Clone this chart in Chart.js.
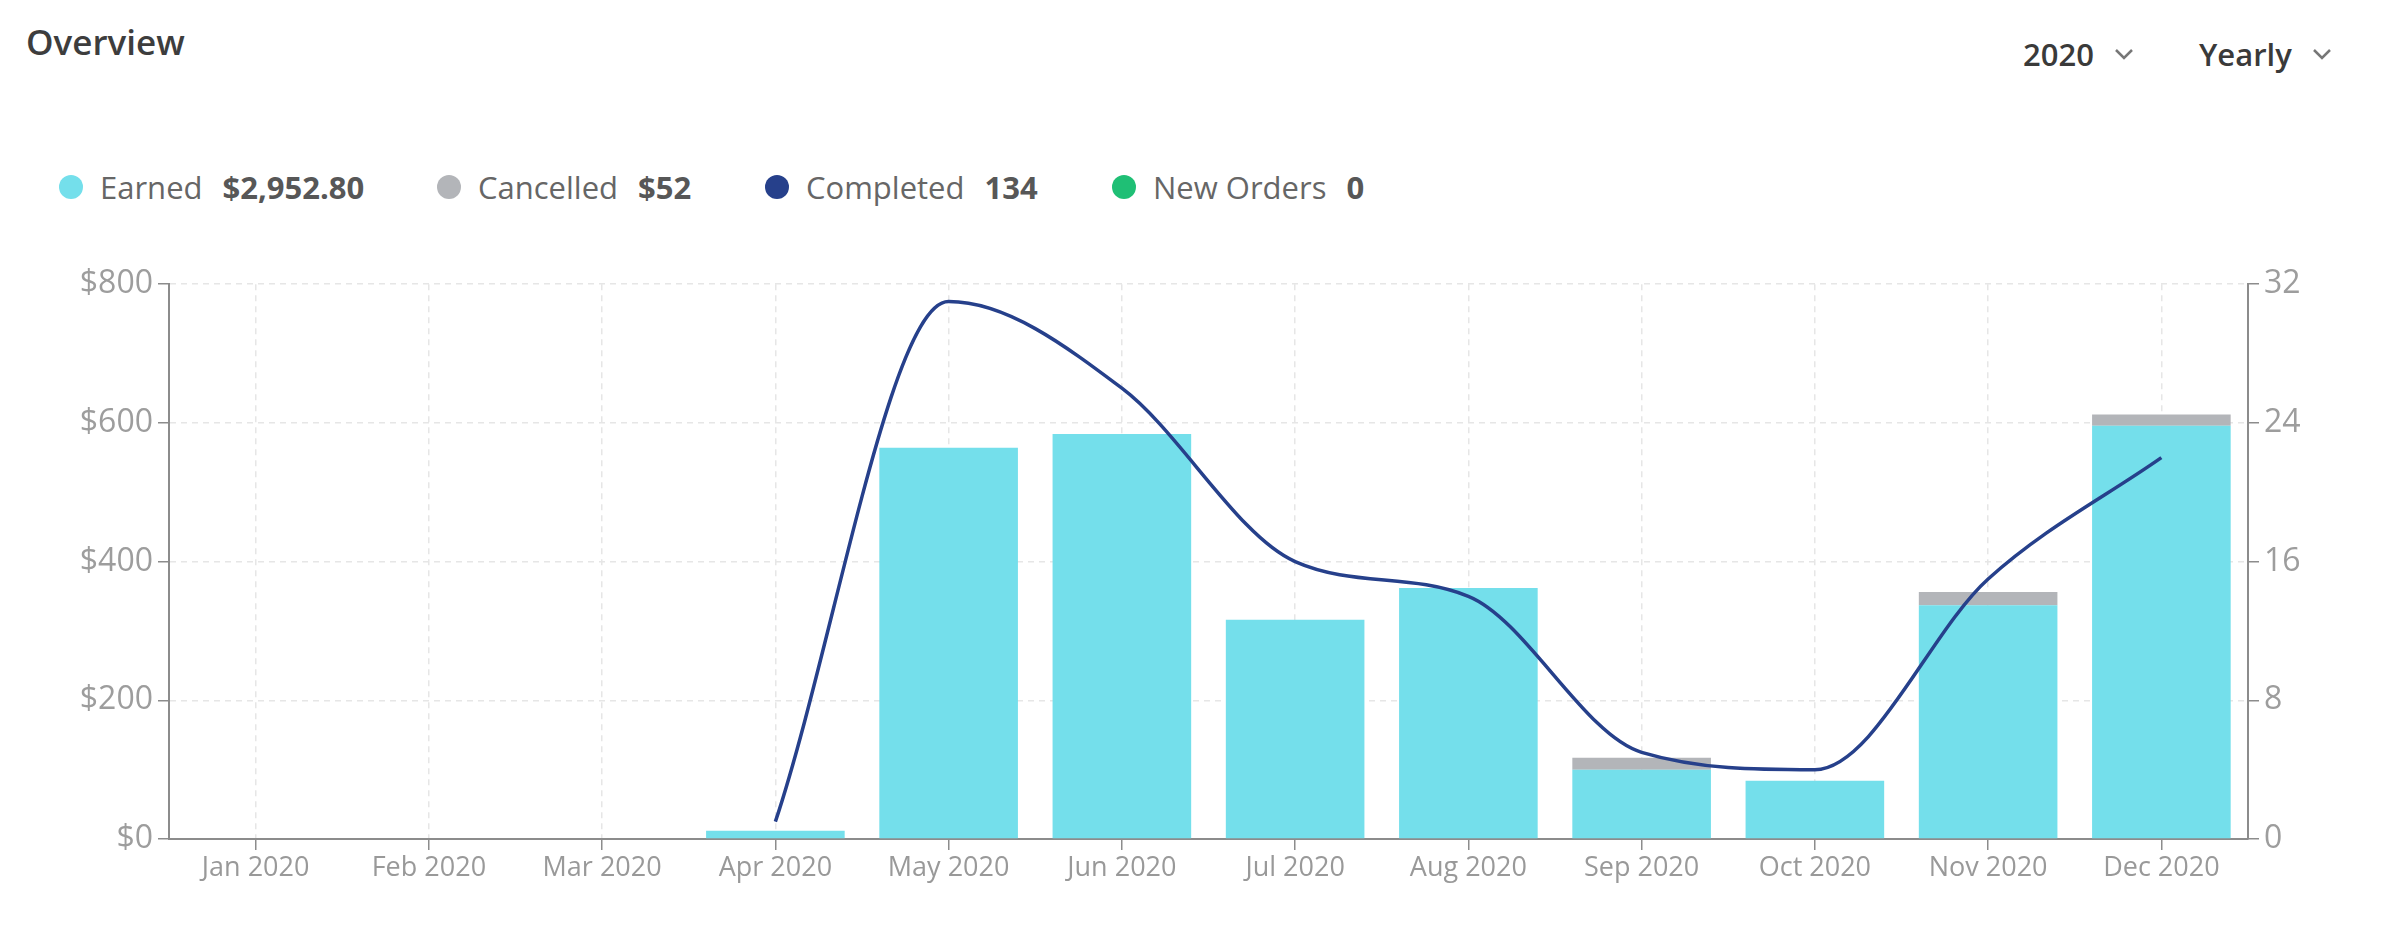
<!DOCTYPE html>
<html>
<head>
<meta charset="utf-8">
<script src="https://cdn.jsdelivr.net/npm/chart.js@4"></script>
<style>
  body { margin: 0; background: #fff; font-family: "Open Sans", sans-serif; }
  #page { position: relative; width: 2395px; height: 946px; overflow: hidden; }
  #title { position: absolute; left: 26px; top: 18px; font-size: 35px; font-weight: 600; color: #3d3d3d; }
  .picker { position: absolute; top: 33px; font-size: 31px; font-weight: 600; color: #3a3a3a; display: flex; align-items: center; }
  .picker svg { margin-left: 20px; }
  .item { position: absolute; top: 166px; display: flex; align-items: center; font-size: 31px; color: #666; white-space: nowrap; }
  .dot { width: 24px; height: 24px; border-radius: 50%; margin-right: 17px; }
  .item b { margin-left: 20px; color: #575757; font-weight: 700; }
  #chart_box { position: absolute; left: 0; top: 260px; width: 2395px; height: 680px; }
</style>
</head>
<body>
<div id="page">
  <div id="title">Overview</div>
  <div class="picker" style="left:2023px">2020
    <svg width="20" height="12"><polyline points="2,2 10,10 18,2" fill="none" stroke="#777" stroke-width="2.5"/></svg></div>
  <div class="picker" style="left:2199px">Yearly
    <svg width="20" height="12"><polyline points="2,2 10,10 18,2" fill="none" stroke="#777" stroke-width="2.5"/></svg></div>

  <div id="legend"></div>

  <div id="chart_box"><canvas id="overview_chart"></canvas></div>
</div>

<script>
const months = ["Jan 2020", "Feb 2020", "Mar 2020", "Apr 2020", "May 2020", "Jun 2020",
                "Jul 2020", "Aug 2020", "Sep 2020", "Oct 2020", "Nov 2020", "Dec 2020"];
const earned = [0, 0, 0, 12, 564, 584, 316, 362, 100, 84, 337, 596];
const cancelled = [0, 0, 0, 0, 0, 0, 0, 0, 17, 0, 19, 16];
const completed = [null, null, null, 1, 31, 26, 16, 14, 5, 4, 15, 22];
const dollar_ticks = [0, 200, 400, 600, 800];
const count_ticks = [0, 8, 16, 24, 32];

const legend_items = [
    { label: "Earned", value: "$2,952.80", color: "#74dfeb", left: 59 },
    { label: "Cancelled", value: "$52", color: "#b3b5b9", left: 437 },
    { label: "Completed", value: "134", color: "#26408b", left: 765 },
    { label: "New Orders", value: "0", color: "#1fbf75", left: 1112 }
];

const legend = document.getElementById("legend");
for (let item of legend_items) {
    let div = document.createElement("div");
    div.className = "item";
    div.style.left = item.left + "px";
    div.innerHTML = `<span class="dot" style="background:${item.color}"></span>${item.label}<b>${item.value}</b>`;
    legend.appendChild(div);
}

const axis_grey = "#8c8c8c";
const grid_grey = "#e6e6e6";
const tick_font = { family: "Open Sans", size: 32 };

var overview_chart = new Chart(document.getElementById("overview_chart"), {
    type: "bar",
    data: {
        labels: months,
        datasets: [
            {
                type: "line",
                label: "Completed",
                data: completed,
                yAxisID: "y1",
                borderColor: "#26408b",
                borderWidth: 3.5,
                pointRadius: 0,
                cubicInterpolationMode: "monotone",
                order: 0
            },
            {
                label: "Earned",
                data: earned,
                backgroundColor: "#74dfeb",
                barPercentage: 0.8,
                categoryPercentage: 1.0,
                order: 1
            },
            {
                label: "Cancelled",
                data: cancelled,
                backgroundColor: "#b3b5b9",
                barPercentage: 0.8,
                categoryPercentage: 1.0,
                order: 1
            }
        ]
    },
    options: {
        responsive: true,
        maintainAspectRatio: false,
        animation: false,
        layout: { padding: { top: 22, left: 0, right: 0, bottom: 0 } },
        plugins: {
            legend: { display: false },
            tooltip: { enabled: false }
        },
        scales: {
            x: {
                stacked: true,
                afterFit: (scale) => { scale.height = 101; },
                grid: {
                    offset: false,
                    color: grid_grey,
                    lineWidth: 1.5,
                    tickColor: axis_grey,
                    tickLength: 11,
                    tickBorderDash: []
                },
                border: { color: axis_grey, width: 2, dash: [6, 5] },
                ticks: { color: "#999", font: { family: "Open Sans", size: 27 }, padding: 2, maxRotation: 0 }
            },
            y: {
                stacked: true,
                position: "left",
                min: 0,
                max: 800,
                afterFit: (scale) => { scale.width = 169; },
                afterBuildTicks: (scale) => { scale.ticks = dollar_ticks.map(v => ({ value: v })); },
                grid: {
                    color: grid_grey,
                    lineWidth: 1.5,
                    tickColor: axis_grey,
                    tickLength: 11,
                    tickBorderDash: []
                },
                border: { color: axis_grey, width: 2, dash: [6, 5] },
                ticks: { color: "#9d9d9d", font: tick_font, padding: 5, callback: (v) => "$" + v }
            },
            y1: {
                position: "right",
                min: 0,
                max: 32,
                afterFit: (scale) => { scale.width = 147; },
                afterBuildTicks: (scale) => { scale.ticks = count_ticks.map(v => ({ value: v })); },
                grid: {
                    drawOnChartArea: false,
                    color: axis_grey,
                    tickColor: axis_grey,
                    lineWidth: 1.5,
                    tickLength: 11
                },
                border: { color: axis_grey, width: 2 },
                ticks: { color: "#9d9d9d", font: tick_font, padding: 5 }
            }
        }
    }
});
</script>
</body>
</html>
